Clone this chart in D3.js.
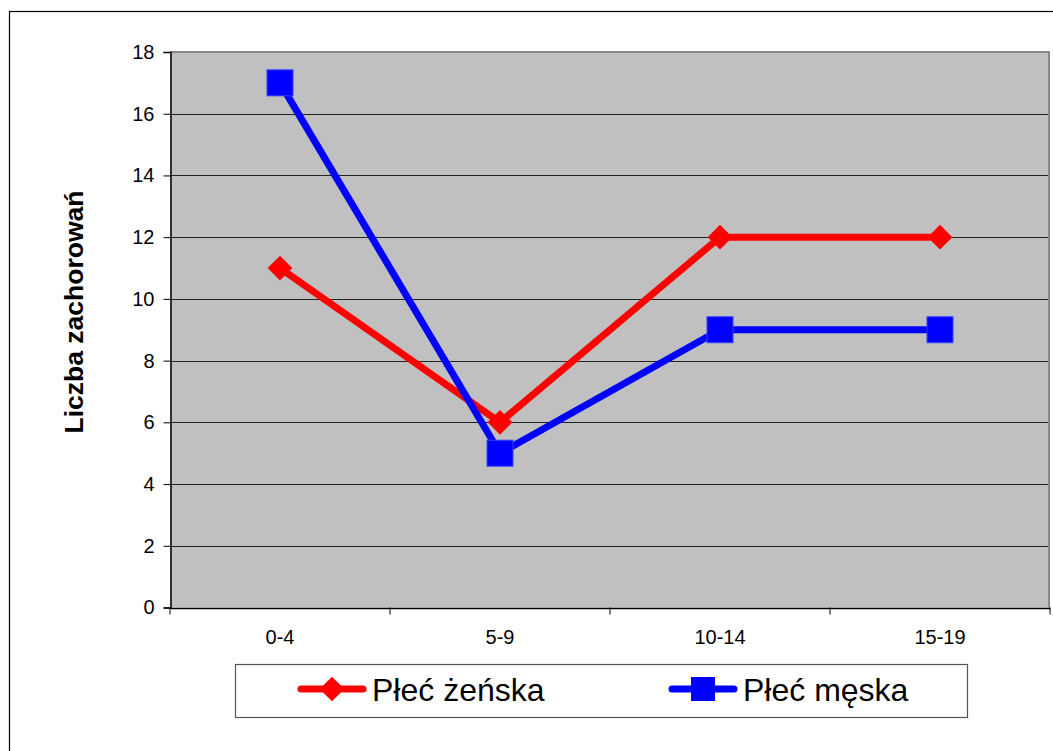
<!DOCTYPE html>
<html>
<head>
<meta charset="utf-8">
<script src="https://cdn.jsdelivr.net/npm/d3@7"></script>
<style>
  body { margin: 0; background: #fff; }
  svg text { font-family: "Liberation Sans", Arial, sans-serif; }
</style>
</head>
<body>
<div id="chart"></div>
<script>
// data
var categories = ["0-4", "5-9", "10-14", "15-19"];
var female = [11, 6, 12, 12];
var male = [17, 5, 9, 9];
var seriesNames = ["Płeć żeńska", "Płeć męska"];
var yTicks = [0, 2, 4, 6, 8, 10, 12, 14, 16, 18];

var width = 1053, height = 751;
var plot = { left: 170, right: 1050, top: 52, bottom: 607.5 };

var svg = d3.select("#chart")
  .append("svg")
  .attr("width", width)
  .attr("height", height);

// outer frame
svg.append("rect")
  .attr("x", 9.5).attr("y", 11.5)
  .attr("width", 1060).attr("height", 760)
  .attr("fill", "none")
  .attr("stroke", "#000")
  .attr("stroke-width", 1.2);

var x = d3.scaleBand()
  .domain(categories)
  .range([plot.left, plot.right]);

var y = d3.scaleLinear()
  .domain([0, 18])
  .range([plot.bottom, plot.top]);

// plot background
svg.append("rect")
  .attr("x", plot.left).attr("y", plot.top)
  .attr("width", plot.right - plot.left)
  .attr("height", plot.bottom - plot.top)
  .attr("fill", "#c0c0c0");

// grid lines
svg.append("g")
  .selectAll("line")
  .data(yTicks.filter(function(d) { return d > 0 && d < 18; }))
  .enter()
  .append("line")
  .attr("x1", plot.left).attr("x2", plot.right)
  .attr("y1", function(d) { return Math.round(y(d)) + 0.5; })
  .attr("y2", function(d) { return Math.round(y(d)) + 0.5; })
  .attr("stroke", "#222")
  .attr("stroke-width", 1);

// plot border (top / right in grey)
svg.append("line")
  .attr("x1", plot.left).attr("x2", plot.right)
  .attr("y1", plot.top).attr("y2", plot.top)
  .attr("stroke", "#888").attr("stroke-width", 2);
svg.append("line")
  .attr("x1", plot.right - 1).attr("x2", plot.right - 1)
  .attr("y1", plot.top).attr("y2", plot.bottom)
  .attr("stroke", "#888").attr("stroke-width", 2);

// y axis
var yAxis = svg.append("g")
  .attr("transform", "translate(" + (plot.left + 0.5) + ",0)")
  .call(d3.axisLeft(y).tickValues(yTicks).tickSize(7).tickPadding(9));
yAxis.attr("font-size", 20);
yAxis.select(".domain").attr("stroke", "#000").attr("stroke-width", 1.5);
yAxis.selectAll(".tick line").attr("stroke", "#000");
yAxis.selectAll("text")
  .style("font-size", "20px")
  .attr("fill", "#000");

// x axis
var xAxis = svg.append("g")
  .attr("transform", "translate(0," + (plot.bottom + 0.5) + ")")
  .call(d3.axisBottom(x).tickSize(0).tickPadding(22));
xAxis.attr("font-size", 20);
xAxis.select(".domain").attr("stroke", "#000").attr("stroke-width", 1.5);
xAxis.selectAll("text")
  .style("font-size", "20px")
  .attr("fill", "#000");
// separators between categories
var bounds = categories.map(function(c) { return x(c); }).concat([plot.right]);
svg.append("g")
  .selectAll("line")
  .data(bounds)
  .enter()
  .append("line")
  .attr("x1", function(d) { return d; })
  .attr("x2", function(d) { return d; })
  .attr("y1", plot.bottom)
  .attr("y2", plot.bottom + 7)
  .attr("stroke", "#000");

// y axis title
svg.append("text")
  .attr("transform", "translate(83,312) rotate(-90)")
  .attr("text-anchor", "middle")
  .style("font-size", "26.5px")
  .style("font-weight", "bold")
  .text("Liczba zachorowań");

var line = d3.line()
  .x(function(d, i) { return x(categories[i]) + x.bandwidth() / 2; })
  .y(function(d) { return y(d); });

// female series
svg.append("path")
  .datum(female)
  .attr("d", line)
  .attr("fill", "none")
  .attr("stroke", "#ff0000")
  .attr("stroke-width", 7)
  .attr("stroke-linejoin", "round");

var diamond = d3.symbol().type(d3.symbolDiamond2).size(390);
svg.append("g")
  .selectAll("path")
  .data(female)
  .enter()
  .append("path")
  .attr("d", diamond)
  .attr("transform", function(d, i) {
    return "translate(" + (x(categories[i]) + x.bandwidth() / 2) + "," + y(d) + ")";
  })
  .attr("fill", "#ff0000");

// male series
svg.append("path")
  .datum(male)
  .attr("d", line)
  .attr("fill", "none")
  .attr("stroke", "#0000ff")
  .attr("stroke-width", 7)
  .attr("stroke-linejoin", "round");

svg.append("g")
  .selectAll("rect")
  .data(male)
  .enter()
  .append("rect")
  .attr("x", function(d, i) { return x(categories[i]) + x.bandwidth() / 2 - 13; })
  .attr("y", function(d) { return y(d) - 13; })
  .attr("width", 26)
  .attr("height", 26)
  .attr("fill", "#0000ff")
  .attr("stroke", "#3344ff")
  .attr("stroke-width", 1);

// legend
var legend = svg.append("g");
legend.append("rect")
  .attr("x", 235.5).attr("y", 664.5)
  .attr("width", 732).attr("height", 53)
  .attr("fill", "#fff")
  .attr("stroke", "#555")
  .attr("stroke-width", 1.2);

var legendItems = [
  { name: seriesNames[0], color: "#ff0000", x0: 298, shape: "diamond" },
  { name: seriesNames[1], color: "#0000ff", x0: 669, shape: "square" }
];
var ly = 689;
legendItems.forEach(function(it) {
  legend.append("line")
    .attr("x1", it.x0 + 3).attr("x2", it.x0 + 65)
    .attr("y1", ly).attr("y2", ly)
    .attr("stroke", it.color)
    .attr("stroke-width", 7)
    .attr("stroke-linecap", "round");
  if (it.shape === "diamond") {
    legend.append("path")
      .attr("d", diamond)
      .attr("transform", "translate(" + (it.x0 + 34) + "," + ly + ")")
      .attr("fill", it.color);
  } else {
    legend.append("rect")
      .attr("x", it.x0 + 34 - 12).attr("y", ly - 12)
      .attr("width", 24).attr("height", 24)
      .attr("fill", it.color);
  }
  legend.append("text")
    .attr("x", it.x0 + 74)
    .attr("y", ly + 12)
    .style("font-size", "32px")
    .text(it.name);
});
</script>
</body>
</html>
